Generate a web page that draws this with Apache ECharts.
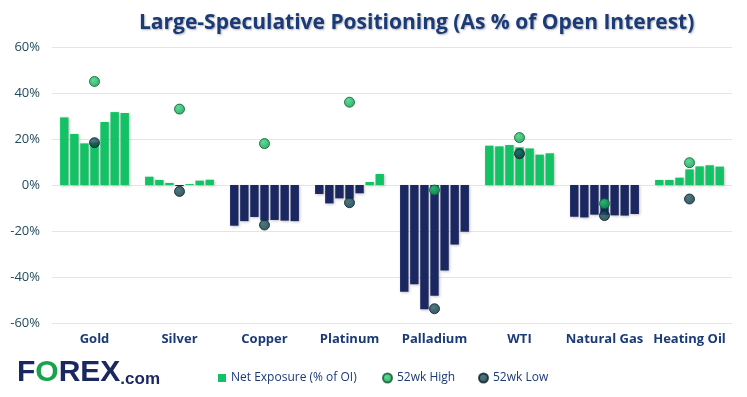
<!DOCTYPE html>
<html>
<head>
<meta charset="utf-8">
<script src="https://cdn.jsdelivr.net/npm/echarts@6/dist/echarts.min.js"></script>
<style>
  html, body { margin: 0; padding: 0; background: #fff; }
  #chart { width: 747px; height: 397px; }
</style>
</head>
<body>
<div id="chart"></div>
<script>
const categories = ['Gold', 'Silver', 'Copper', 'Platinum', 'Palladium', 'WTI', 'Natural Gas', 'Heating Oil']
// net exposure over the last 7 weeks, per market
const gold = [29.4, 22.2, 18.1, 18.5, 27.4, 31.7, 31.3]
const silver = [3.6, 2.2, 0.9, -0.5, 0.4, 1.9, 2.3]
const copper = [-17.7, -15.7, -13.9, -15.5, -15.2, -15.5, -15.7]
const platinum = [-3.9, -8.0, -5.8, -6.0, -3.6, 1.3, 4.8]
const palladium = [-46.4, -43.2, -54.0, -48.1, -37.2, -25.9, -20.3]
const wti = [17.1, 16.8, 17.4, 16.4, 15.9, 13.2, 13.8]
const natGas = [-13.8, -14.1, -12.9, -13.0, -13.2, -13.3, -12.6]
const heatingOil = [2.2, 2.2, 3.2, 6.8, 8.1, 8.6, 8.0]
const high52 = [45, 33, 18, 36, -2.2, 20.6, -8.1, 9.7]
const low52 = [18.4, -2.8, -17.4, -7.7, -53.8, 13.6, -13.3, -6.1]
const yTicks = [-60, -40, -20, 0, 20, 40, 60]

const markets = [gold, silver, copper, platinum, palladium, wti, natGas, heatingOil]
const GREEN = '#14c266'
const NAVY = '#1b2761'
const TEXT = '#1b3a78'

const chart = echarts.init(document.getElementById('chart'))

const barSeries = []
for (let w = 0; w < 7; w++) {
  barSeries.push({
    name: 'Net Exposure (% of OI)',
    type: 'bar',
    barGap: '20%',
    barCategoryGap: '19%',
    data: markets.map(m => ({
      value: m[w],
      itemStyle: { color: m[w] >= 0 ? GREEN : NAVY }
    })),
    itemStyle: {
      shadowColor: 'rgba(0,0,0,0.25)',
      shadowBlur: 3,
      shadowOffsetX: 1,
      shadowOffsetY: 1
    }
  })
}

const highColor = new echarts.graphic.RadialGradient(0.4, 0.35, 0.7, [
  { offset: 0, color: '#2bd879' },
  { offset: 1, color: '#0a9445' }
])
const lowColor = new echarts.graphic.RadialGradient(0.4, 0.35, 0.7, [
  { offset: 0, color: '#1f5965' },
  { offset: 1, color: '#082a33' }
])

chart.setOption({
  animation: false,
  title: {
    text: 'Large-Speculative Positioning (As % of Open Interest)',
    left: 134,
    top: 8,
    textStyle: {
      fontFamily: 'Open Sans',
      fontWeight: 'bold',
      fontSize: 21,
      color: TEXT,
      textShadowColor: 'rgba(0,0,0,0.3)',
      textShadowBlur: 2,
      textShadowOffsetX: 1,
      textShadowOffsetY: 1
    }
  },
  grid: { left: 52, right: 15, top: 47, bottom: 74 },
  legend: [
    {
      data: [{ name: 'Net Exposure (% of OI)', icon: 'rect', itemStyle: { color: GREEN } }],
      left: 213, top: 367, itemWidth: 8, itemHeight: 8, itemGap: 4,
      textStyle: { color: TEXT, fontSize: 12, fontFamily: 'Open Sans' }
    },
    {
      data: [{ name: '52wk High', icon: 'circle' }],
      left: 377, top: 367, itemWidth: 9, itemHeight: 9,
      textStyle: { color: TEXT, fontSize: 12, fontFamily: 'Open Sans' }
    },
    {
      data: [{ name: '52wk Low', icon: 'circle' }],
      left: 473, top: 367, itemWidth: 9, itemHeight: 9,
      textStyle: { color: TEXT, fontSize: 12, fontFamily: 'Open Sans' }
    }
  ],
  xAxis: {
    type: 'category',
    data: categories,
    axisLine: { show: false },
    axisTick: { show: false },
    axisLabel: {
      interval: 0,
      color: TEXT,
      fontWeight: 'bold',
      fontSize: 13,
      fontFamily: 'Open Sans',
      margin: 10
    }
  },
  yAxis: {
    type: 'value',
    min: yTicks[0],
    max: yTicks[yTicks.length - 1],
    interval: 20,
    axisLabel: {
      formatter: '{value}%',
      color: '#1f4a59',
      fontSize: 13,
      fontFamily: 'Open Sans',
      margin: 12
    },
    splitLine: { lineStyle: { color: '#e3e6e6' } }
  },
  series: [
    ...barSeries,
    {
      name: '52wk High',
      type: 'scatter',
      data: high52,
      symbolSize: 10,
      z: 5,
      itemStyle: { color: highColor, borderColor: '#0a5a30', borderWidth: 1 }
    },
    {
      name: '52wk Low',
      type: 'scatter',
      data: low52,
      symbolSize: 10,
      z: 5,
      itemStyle: { color: lowColor, borderColor: '#05202a', borderWidth: 1 }
    }
  ],
  graphic: [
    {
      type: 'text',
      left: 17,
      top: 358,
      style: {
        text: '{a|F}{b|O}{a|REX}{c|.com}',
        rich: {
          a: { fontFamily: 'Liberation Sans', fontWeight: 'bold', fontSize: 30, fill: NAVY, color: NAVY },
          b: { fontFamily: 'Liberation Sans', fontWeight: 'bold', fontSize: 30, fill: '#17a34a', color: '#17a34a' },
          c: { fontFamily: 'Liberation Sans', fontWeight: 'bold', fontSize: 17, fill: NAVY, color: NAVY, verticalAlign: 'bottom' }
        }
      }
    }
  ]
})
</script>
</body>
</html>
